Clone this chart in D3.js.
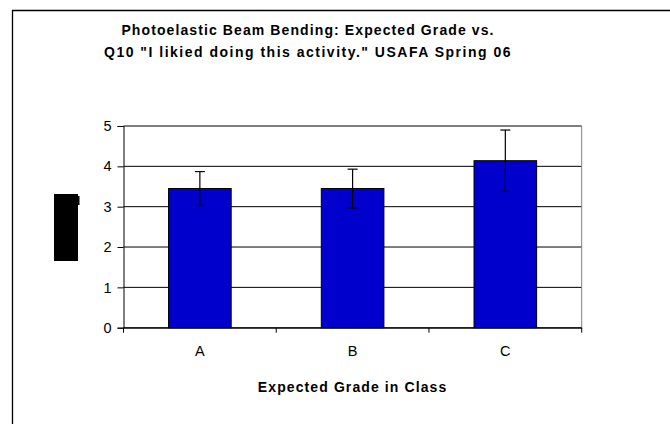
<!DOCTYPE html>
<html>
<head>
<meta charset="utf-8">
<script src="https://cdn.jsdelivr.net/npm/d3@7"></script>
<style>
  body { margin: 0; background: #fff; }
  text { font-family: "Liberation Sans", Arial, sans-serif; }
</style>
</head>
<body>
<div id="chart"></div>
<script>
// data
const grades = ["A", "B", "C"];
const means = [3.45, 3.45, 4.14];
const errs = [0.42, 0.48, 0.76];
const yTicks = [0, 1, 2, 3, 4, 5];
const titleLines = ["Photoelastic Beam Bending: Expected Grade vs.", "Q10 \"I likied doing this activity.\" USAFA Spring 06"];
const xTitle = "Expected Grade in Class";

const W = 670, H = 424;
const plot = { left: 123.5, right: 581.7, top: 126, bottom: 327.7 };

const svg = d3.select("#chart").append("svg")
    .attr("width", W)
    .attr("height", H);

// chart frame (only left and top edges are inside the picture)
svg.append("path")
    .attr("d", "M12.5," + H + "V10.5H" + W)
    .attr("fill", "none")
    .attr("stroke", "#000")
    .attr("stroke-width", 1.3);

const x = d3.scaleBand()
    .domain(grades)
    .range([plot.left, plot.right]);
const y = d3.scaleLinear()
    .domain([0, 5])
    .range([plot.bottom, plot.top]);

// gridlines
svg.append("g").selectAll("line")
    .data(yTicks)
    .enter().append("line")
    .attr("x1", plot.left)
    .attr("x2", plot.right)
    .attr("y1", (d) => y(d))
    .attr("y2", (d) => y(d))
    .attr("stroke", "#000")
    .attr("stroke-width", 1);

// right edge of plot area
svg.append("line")
    .attr("x1", plot.right).attr("x2", plot.right)
    .attr("y1", plot.top).attr("y2", plot.bottom)
    .attr("stroke", "#808080");

// bars
const barW = x.bandwidth() * 0.41;
svg.append("g").selectAll("rect")
    .data(grades)
    .enter().append("rect")
    .attr("x", (d) => x(d) + (x.bandwidth() - barW) / 2)
    .attr("width", barW)
    .attr("y", (d, i) => y(means[i]))
    .attr("height", (d, i) => y(0) - y(means[i]))
    .attr("fill", "#0000cc")
    .attr("stroke", "#000")
    .attr("stroke-width", 1);

// error bars
const eb = svg.append("g").attr("stroke", "#000").attr("stroke-width", 1.2);
grades.forEach((g, i) => {
    const cx = x(g) + x.bandwidth() / 2;
    const hi = y(means[i] + errs[i]), lo = y(means[i] - errs[i]);
    eb.append("line").attr("x1", cx).attr("x2", cx).attr("y1", hi).attr("y2", lo);
    eb.append("line").attr("x1", cx - 5).attr("x2", cx + 5).attr("y1", hi).attr("y2", hi);
    eb.append("line").attr("x1", cx - 5).attr("x2", cx + 5).attr("y1", lo).attr("y2", lo);
});

// y axis
const yAxis = svg.append("g")
    .attr("transform", "translate(" + plot.left + ",0)")
    .call(d3.axisLeft(y).tickValues(yTicks).tickSize(6).tickPadding(6).tickFormat(d3.format("d")));
yAxis.select(".domain").attr("stroke", "#000");
yAxis.selectAll("text").attr("font-size", 14.5).attr("fill", "#000")
    .attr("font-family", "'Liberation Sans', Arial, sans-serif");

// x axis
const xAxis = svg.append("g")
    .attr("transform", "translate(0," + plot.bottom + ")")
    .call(d3.axisBottom(x).tickSize(0).tickPadding(18));
xAxis.select(".domain").attr("stroke", "#000");
xAxis.selectAll("text").attr("font-size", 14.5).attr("fill", "#000")
    .attr("font-family", "'Liberation Sans', Arial, sans-serif");
// category separator ticks
svg.append("g").selectAll("line")
    .data(grades.concat(["end"]))
    .enter().append("line")
    .attr("x1", (d, i) => i < grades.length ? x(d) : plot.right)
    .attr("x2", (d, i) => i < grades.length ? x(d) : plot.right)
    .attr("y1", plot.bottom)
    .attr("y2", plot.bottom + 5)
    .attr("stroke", "#000");

// axis title
svg.append("text")
    .attr("x", (plot.left + plot.right) / 2)
    .attr("y", 392)
    .attr("text-anchor", "middle")
    .attr("font-size", 14)
    .attr("font-weight", "bold")
    .attr("letter-spacing", 1.1)
    .text(xTitle);

// y axis title renders as a solid black block in the original
svg.append("rect").attr("x", 54).attr("y", 194).attr("width", 24).attr("height", 67).attr("fill", "#000");
svg.append("rect").attr("x", 78).attr("y", 196).attr("width", 1.5).attr("height", 9).attr("fill", "#000");

// title
svg.append("g").selectAll("text")
    .data(titleLines)
    .enter().append("text")
    .attr("x", 308)
    .attr("y", (d, i) => 35 + i * 22)
    .attr("text-anchor", "middle")
    .attr("font-size", 14)
    .attr("font-weight", "bold")
    .attr("letter-spacing", (d, i) => i === 0 ? 1.1 : 1.5)
    .text((d) => d);
</script>
</body>
</html>
